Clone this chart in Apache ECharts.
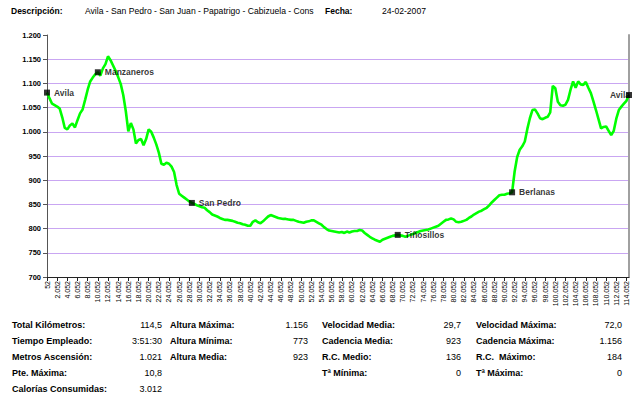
<!DOCTYPE html>
<html>
<head>
<meta charset="utf-8">
<script src="https://cdn.jsdelivr.net/npm/echarts@6/dist/echarts.min.js"></script>
<style>
html,body{margin:0;padding:0;background:#fff;}
#chart{width:640px;height:393px;}
</style>
</head>
<body>
<div id="chart"></div>
<script>
// distance (m) categories
const distances = [
52,552,1052,1552,2052,2552,3052,3552,4052,4552,
5052,5552,6052,6552,7052,7552,8052,8552,9052,9552,
10052,10552,11052,11552,12052,12552,13052,13552,14052,14552,
15052,15552,16052,16552,17052,17552,18052,18552,19052,19552,
20052,20552,21052,21552,22052,22552,23052,23552,24052,24552,
25052,25552,26052,26552,27052,27552,28052,28552,29052,29552,
30052,30552,31052,31552,32052,32552,33052,33552,34052,34552,
35052,35552,36052,36552,37052,37552,38052,38552,39052,39552,
40052,40552,41052,41552,42052,42552,43052,43552,44052,44552,
45052,45552,46052,46552,47052,47552,48052,48552,49052,49552,
50052,50552,51052,51552,52052,52552,53052,53552,54052,54552,
55052,55552,56052,56552,57052,57552,58052,58552,59052,59552,
60052,60552,61052,61552,62052,62552,63052,63552,64052,64552,
65052,65552,66052,66552,67052,67552,68052,68552,69052,69552,
70052,70552,71052,71552,72052,72552,73052,73552,74052,74552,
75052,75552,76052,76552,77052,77552,78052,78552,79052,79552,
80052,80552,81052,81552,82052,82552,83052,83552,84052,84552,
85052,85552,86052,86552,87052,87552,88052,88552,89052,89552,
90052,90552,91052,91552,92052,92552,93052,93552,94052,94552,
95052,95552,96052,96552,97052,97552,98052,98552,99052,99552,
100052,100552,101052,101552,102052,102552,103052,103552,104052,104552,
105052,105552,106052,106552,107052,107552,108052,108552,109052,109552,
110052,110552,111052,111552,112052,112552,113052,113552,114052,114552
];
// elevation (m)
const elevation = [
1081,1069,1058,1055,1052,1048,1030,1008,1005,1013,
1017,1009,1024,1038,1046,1066,1087,1104,1112,1119,
1123,1116,1131,1140,1156,1148,1137,1126,1113,1099,
1076,1043,1001,1018,1005,976,983,985,972,985,
1005,1000,988,974,957,934,932,936,934,928,
917,890,872,868,864,860,856,853,851,848,
846,844,843,838,834,829,827,825,822,820,
818,818,817,816,814,812,811,809,808,806,
806,814,817,813,811,815,820,825,828,826,
824,822,821,820,820,819,818,818,816,814,
813,812,814,815,817,817,814,811,808,803,
799,796,795,794,793,792,793,791,794,792,
794,795,795,797,796,791,787,783,780,777,
775,773,777,779,781,783,785,786,787,786,
785,783,785,787,789,791,793,795,796,797,
798,800,802,804,806,810,814,818,819,821,
819,814,813,814,816,818,822,825,829,832,
835,837,840,843,848,854,859,864,869,870,
870,872,873,875,918,948,963,970,980,1006,
1028,1045,1046,1038,1028,1026,1029,1031,1040,1095,
1090,1062,1055,1054,1056,1066,1087,1104,1091,1104,
1098,1097,1103,1091,1080,1063,1045,1026,1007,1010,
1011,1002,993,1002,1027,1045,1052,1058,1064,1076
];
const waypointNames = ['Avila','Manzaneros','San Pedro','Tiñosillos','Berlanas','Avila'];
const waypointIndex = [0,20,57,138,183,229];

const headerLabels = ['Descripción:','Fecha:'];
const headerValues = ['Avila - San Pedro - San Juan - Papatrigo - Cabizuela - Cons','24-02-2007'];

const col1Labels = ['Total Kilómetros:','Tiempo Empleado:','Metros Ascensión:','Pte. Máxima:','Calorías Consumidas:'];
const col1Values = ['114,5','3:51:30','1.021','10,8','3.012'];
const col2Labels = ['Altura Máxima:','Altura Mínima:','Altura Media:'];
const col2Values = ['1.156','773','923'];
const col3Labels = ['Velocidad Media:','Cadencia Media:','R.C. Medio:','Tª Mínima:'];
const col3Values = ['29,7','923','136','0'];
const col4Labels = ['Velocidad Máxima:','Cadencia Máxima:','R.C.  Máximo:','Tª Máxima:'];
const col4Values = ['72,0','1.156','184','0'];

const FONT = '"Liberation Sans", Arial, sans-serif';
function fmt(n){ return String(n).replace(/\B(?=(\d{3})+(?!\d))/g,'.'); }

const graphics = [];
function txt(x,y,t,bold,align,size){
  graphics.push({type:'text',x:x,y:y,style:{text:t,fill:'#000',font:(bold?'bold ':'')+(size||9)+'px '+FONT,textAlign:align||'left',textVerticalAlign:'middle'}});
}
txt(11,11,headerLabels[0],true,'left',8.5); txt(85,11,headerValues[0],false,'left',8.6);
txt(325,11,headerLabels[1],true,'left',8.5); txt(382,11,headerValues[1],false,'left',8.6);
const rowY = [325,341,357,373,389];
const cols = [
  [col1Labels,col1Values,12,162],
  [col2Labels,col2Values,170,308],
  [col3Labels,col3Values,322,461],
  [col4Labels,col4Values,476,622]
];
cols.forEach(c=>{
  c[0].forEach((l,i)=>{ txt(c[2],rowY[i],l,true); txt(c[3],rowY[i],c[1][i],false,'right'); });
});

const lastWp = waypointNames.length-1;
const chart = echarts.init(document.getElementById('chart'),null,{renderer:'svg'});
chart.setOption({
  animation:false,
  backgroundColor:'#fff',
  grid:{left:47,right:11,top:35,bottom:116,containLabel:false},
  xAxis:{
    type:'category',data:distances,boundaryGap:false,
    axisLine:{lineStyle:{color:'#222',width:1}},
    axisTick:{show:true,interval:3,length:4,lineStyle:{color:'#222'}},
    axisLabel:{interval:3,rotate:90,fontSize:7,fontFamily:FONT,color:'#000',margin:4,formatter:v=>fmt(v)},
    splitLine:{show:false}
  },
  yAxis:[{
    type:'value',min:700,max:1200,interval:50,
    axisLine:{show:true,lineStyle:{color:'#555',width:1}},
    axisTick:{show:true,length:4,lineStyle:{color:'#555'}},
    axisLabel:{fontSize:7.5,fontWeight:'bold',fontFamily:FONT,color:'#000',margin:6,formatter:v=>fmt(v)},
    splitLine:{show:true,showMaxLine:false,lineStyle:{color:'#C9A6F2',width:1}}
  },{
    type:'value',min:700,max:1200,interval:50,position:'right',
    axisLine:{show:true,lineStyle:{color:'#A0A0A0',width:2}},
    axisTick:{show:false},axisLabel:{show:false},splitLine:{show:false}
  }],
  series:[{
    type:'line',data:elevation,showSymbol:false,
    lineStyle:{color:'#00FF00',width:2.6},
    itemStyle:{color:'#00FF00'},z:2
  },{
    // waypoint labels (drawn beneath the markers)
    type:'scatter',clip:false,z:3,symbolSize:0,
    data:waypointIndex.map((idx,i)=>({
      value:[idx,elevation[idx]],name:waypointNames[i],
      label:i===lastWp?{position:'left',offset:[8,0]}:{position:'right'}
    })),
    label:{show:true,formatter:p=>p.name,fontSize:8.5,fontWeight:'bold',fontFamily:FONT,color:'#000',distance:7}
  },{
    // waypoint markers
    type:'scatter',clip:false,z:4,
    symbol:'rect',symbolSize:6,
    itemStyle:{color:'#000'},
    data:waypointIndex.map(idx=>[idx,elevation[idx]])
  }],
  graphic:graphics
});
</script>
</body>
</html>
